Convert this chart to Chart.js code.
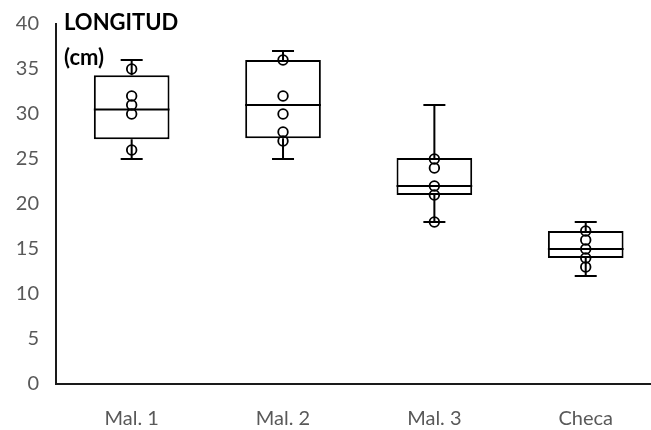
<!DOCTYPE html>
<html lang="es">
<head>
<meta charset="UTF-8">
<title>Longitud por muestra</title>
<script src="https://cdn.jsdelivr.net/npm/chart.js@4"></script>
<style>
  html, body { margin: 0; padding: 0; background: #fff; overflow: hidden; }
  .wrap { position: relative; width: 668px; height: 430px; overflow: hidden; }
  #grafico { position: absolute; left: 0; top: -5px; }
  .titulo {
    position: absolute; left: 64px; top: 4px;
    font-family: Lato, "Open Sans", sans-serif; font-weight: bold;
    font-size: 22px; line-height: 35px; color: #000;
  }
</style>
</head>
<body>
<div class="wrap">
  <canvas id="grafico" width="668" height="435"></canvas>
  <div class="titulo">LONGITUD<br>(cm)</div>
</div>
<script>
// Datos
const categorias = ['Mal. 1', 'Mal. 2', 'Mal. 3', 'Checa'];
const minimos = [25, 25, 18, 12];
const cuartil1 = [27.2, 27.3, 21, 14];
const medianas = [30.5, 31, 22, 15];
const cuartil3 = [34.3, 36, 25.1, 17];
const maximos = [36, 37, 31, 18];
const puntosMal1 = [35, 32, 31, 30, 26];
const puntosMal2 = [36, 32, 30, 28, 27];
const puntosMal3 = [25, 24, 22, 21, 18];
const puntosCheca = [17, 16, 15, 14, 13];
const ticksY = [0, 5, 10, 15, 20, 25, 30, 35, 40];

const todosPuntos = [puntosMal1, puntosMal2, puntosMal3, puntosCheca];
const puntos = [];
todosPuntos.forEach((lista, i) => {
  lista.forEach(v => puntos.push({ x: categorias[i], y: v }));
});

// Plugin para bigotes y medianas
const bigotes = {
  id: 'bigotes',
  afterDatasetsDraw(chart) {
    const { ctx, scales: { x, y } } = chart;
    const meta = chart.getDatasetMeta(1);
    ctx.save();
    ctx.strokeStyle = '#000';
    ctx.lineWidth = 2;
    categorias.forEach((c, i) => {
      const cx = x.getPixelForValue(i);
      const bar = meta.data[i];
      const half = bar.width / 2;
      ctx.beginPath();
      // mediana
      ctx.moveTo(cx - half, y.getPixelForValue(medianas[i]));
      ctx.lineTo(cx + half, y.getPixelForValue(medianas[i]));
      // bigote superior
      ctx.moveTo(cx, y.getPixelForValue(cuartil3[i]));
      ctx.lineTo(cx, y.getPixelForValue(maximos[i]));
      ctx.moveTo(cx - 11, y.getPixelForValue(maximos[i]));
      ctx.lineTo(cx + 11, y.getPixelForValue(maximos[i]));
      // bigote inferior
      ctx.moveTo(cx, y.getPixelForValue(cuartil1[i]));
      ctx.lineTo(cx, y.getPixelForValue(minimos[i]));
      ctx.moveTo(cx - 11, y.getPixelForValue(minimos[i]));
      ctx.lineTo(cx + 11, y.getPixelForValue(minimos[i]));
      ctx.stroke();
    });
    ctx.restore();
  }
};

const fuente = { family: 'Lato, "Open Sans", sans-serif', size: 20 };

new Chart(document.getElementById('grafico'), {
  data: {
    labels: categorias,
    datasets: [
      {
        type: 'line',
        data: puntos,
        showLine: false,
        pointStyle: 'circle',
        pointRadius: 4.8,
        pointBorderWidth: 1.8,
        pointBorderColor: '#000',
        pointBackgroundColor: 'rgba(255,255,255,0)',
        order: 0
      },
      {
        type: 'bar',
        data: categorias.map((c, i) => [cuartil1[i], cuartil3[i]]),
        backgroundColor: '#fff',
        borderColor: '#000',
        borderWidth: 2,
        borderSkipped: false,
        barPercentage: 0.5,
        categoryPercentage: 1,
        order: 1
      }
    ]
  },
  options: {
    responsive: false,
    animation: false,
    layout: { padding: { top: 12, right: 3 } },
    plugins: { legend: { display: false }, tooltip: { enabled: false } },
    scales: {
      x: {
        offset: true,
        grid: { display: false, drawTicks: false },
        border: { display: true, color: '#1a1a1a', width: 2 },
        ticks: { color: '#595959', font: fuente, padding: 23 },
        afterFit(scale) { scale.height = 46; }
      },
      y: {
        min: 0,
        max: 40,
        afterBuildTicks(scale) { scale.ticks = ticksY.map(v => ({ value: v })); },
        grid: { display: false, drawTicks: false },
        border: { display: true, color: '#1a1a1a', width: 2 },
        ticks: { color: '#595959', font: fuente, padding: 17 },
        afterFit(scale) { scale.width = 56; }
      }
    }
  },
  plugins: [bigotes]
});
</script>
</body>
</html>
